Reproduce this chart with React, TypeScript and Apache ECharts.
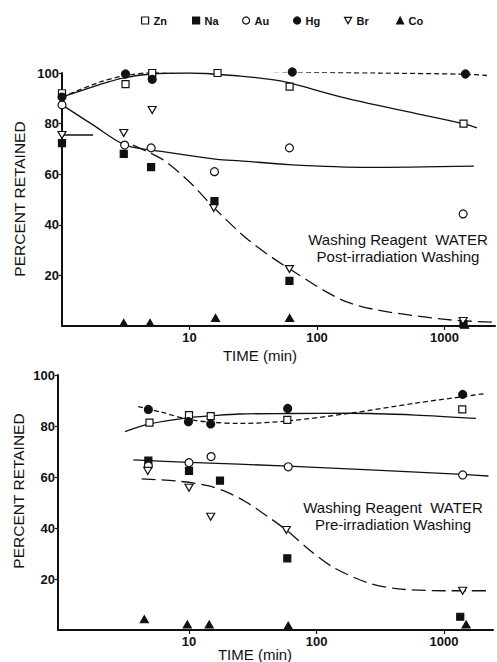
import React, { useEffect, useRef } from "react";
import * as echarts from "echarts";

// ---------- labels ----------
const elements = ["Zn", "Na", "Au", "Hg", "Br", "Co"];
const xTickValues = [10, 100, 1000];
const yTickValues = [20, 40, 60, 80, 100];
const xTitle = "TIME (min)";
const yTitle = "PERCENT RETAINED";
const postNote = ["Washing Reagent  WATER", "Post-irradiation Washing"];
const preNote = ["Washing Reagent  WATER", "Pre-irradiation Washing"];

// ---------- top panel: post-irradiation washing, [time (min), % retained] ----------
const postZn = [[1, 92], [3.15, 95.6], [5.1, 100], [16.6, 100], [61, 94.6], [1410, 80]];
const postNa = [[1, 72.3], [3.05, 68], [5.0, 62.8], [15.7, 49.4], [60.8, 17.8], [1410, 0.8]];
const postAu = [[1, 87.4], [3.1, 71.5], [5.0, 70.4], [15.7, 61], [60.8, 70.4], [1400, 44.3]];
const postHg = [[1, 90.5], [3.15, 99.6], [5.1, 97.5], [64, 100.4], [1460, 99.6]];
const postBr = [[1, 75.5], [3.05, 76.3], [5.1, 85.4], [15.5, 46.6], [60.8, 22.5], [1400, 2]];
const postCo = [[3.05, 1.2], [4.9, 1.2], [16, 3.2], [61, 3.2], [1440, 0.5]];

// fitted curves (top)
const postHgFit = [[1, 90.5], [2, 96.5], [3, 98.8], [5, 100.2], [10, 100.8], [25, 100.9], [64, 100.4], [300, 100], [1460, 99.5], [2180, 99]];
const postZnFit = [[1, 90.5], [2, 95.5], [3, 98], [5, 99.6], [10, 100], [25, 98.8], [43, 97.5], [60, 96.2], [153, 90.6], [512, 84.7], [1400, 80], [1800, 78.3]];
const postAuFit = [[1, 87.4], [1.76, 79.4], [3.15, 71.5], [6.2, 68.9], [16.5, 65.9], [25, 65.3], [60, 63.8], [250, 62.7], [1700, 63.2]];
const postBrStart = [[1, 75.5], [1.75, 75.5]];
const postNaBrFit = [[3.6, 71.5], [6.25, 65.6], [10.2, 56.5], [15.4, 47], [29, 34], [59, 23], [183, 9], [930, 2.8], [2500, 1.5]];

// ---------- bottom panel: pre-irradiation washing ----------
const preZn = [[4.9, 81.3], [10, 84.3], [14.8, 83.9], [59, 82.4], [1390, 86.5]];
const preNa = [[4.8, 66.4], [10, 62.4], [17.5, 58.6], [59, 28.1], [1340, 5.2]];
const preAu = [[4.8, 64.3], [10, 65.6], [14.9, 68], [60, 64], [1400, 60.8]];
const preHg = [[4.8, 86.5], [9.9, 81.7], [14.8, 80.8], [59.4, 86.9], [1400, 92.4]];
const preBr = [[4.75, 62.4], [10, 55.8], [14.8, 44.4], [58, 39.2], [1400, 15.4]];
const preCo = [[4.46, 4.2], [9.7, 2.2], [14.4, 2.2], [60, 1.7], [1490, 2.2]];

// fitted curves (bottom)
const preHgFit = [[4.0, 87.6], [6, 85.5], [10, 82.5], [15, 81.5], [25, 81], [60, 82], [183, 85], [600, 89], [1400, 91.5], [2150, 92.8]];
const preZnFit = [[3.15, 77.8], [4.9, 80.8], [10, 83.3], [15, 84], [25, 84.7], [60, 84.9], [183, 85], [600, 84.3], [1780, 83]];
const preAuFit = [[3.66, 66.7], [10, 65.7], [60, 64.3], [1400, 61], [2230, 60.4]];
const preNaBrFit = [[4.25, 59.3], [8.5, 58.3], [14, 56.6], [20, 54], [28, 50.2], [40, 45], [58, 39.2], [90, 31], [135, 24.6], [250, 18.6], [424, 16.2], [1000, 15.4], [2230, 15.4]];

const INK = "#111";
const DOWN_TRI = "path://M0,0L10,0L5,9Z";
const markers: Record<string, { symbol: string; size: number | number[]; fill: string }> = {
  Zn: { symbol: "rect", size: 7, fill: "#fff" },
  Na: { symbol: "rect", size: 7, fill: INK },
  Au: { symbol: "circle", size: 8, fill: "#fff" },
  Hg: { symbol: "circle", size: 8, fill: INK },
  Br: { symbol: DOWN_TRI, size: [8, 7], fill: "#fff" },
  Co: { symbol: "triangle", size: [8, 7], fill: INK },
};
const legendLeft = [141, 192, 242, 293, 344, 396];

export default function App() {
  const ref = useRef<HTMLDivElement>(null);
  useEffect(() => {
    if (!ref.current) return;
    const chart = echarts.init(ref.current, null, { renderer: "svg" });

    const scatter = (name: string, data: number[][], idx: number) => {
      const m = markers[name];
      return {
        type: "scatter",
        name,
        data,
        xAxisIndex: idx,
        yAxisIndex: idx,
        symbol: m.symbol,
        symbolSize: m.size,
        itemStyle: { color: m.fill, borderColor: INK, borderWidth: 1.2, opacity: 1 },
        z: 5,
        clip: false,
      };
    };
    const fit = (name: string, data: number[][], idx: number, type: any) => ({
      type: "line",
      name,
      data,
      xAxisIndex: idx,
      yAxisIndex: idx,
      showSymbol: false,
      symbol: "none",
      smooth: 0.3,
      lineStyle: { color: INK, width: 1.3, type },
      z: 2,
      silent: true,
    });

    const xAxis = (gridIndex: number, min: number, max: number) => ({
      type: "log",
      logBase: 10,
      gridIndex,
      min,
      max,
      axisLine: { show: true, lineStyle: { color: INK, width: 2 } },
      axisTick: { show: true, length: 4, customValues: xTickValues, lineStyle: { color: INK, width: 1.2 } },
      axisLabel: {
        customValues: xTickValues,
        margin: 5,
        color: INK,
        fontSize: 13,
        fontFamily: "Liberation Sans",
        fontWeight: "bold",
        formatter: (v: number) => String(Math.round(v)),
      },
      splitLine: { show: false },
      minorTick: { show: false },
    });
    const yAxis = (gridIndex: number) => ({
      type: "value",
      gridIndex,
      min: 0,
      max: 100,
      axisLine: { show: true, lineStyle: { color: INK, width: 2 } },
      axisTick: { show: true, length: 3, customValues: yTickValues, lineStyle: { color: INK, width: 1.2 } },
      axisLabel: {
        customValues: yTickValues,
        margin: 3,
        color: INK,
        fontSize: 13,
        fontFamily: "Liberation Sans",
        fontWeight: "bold",
      },
      splitLine: { show: false },
    });

    const legends = elements.map((name, i) => {
      const m = markers[name];
      return {
        left: legendLeft[i],
        top: 15,
        padding: 0,
        itemWidth: 7,
        itemHeight: 7,
        selectedMode: false,
        textStyle: { fontSize: 11, fontWeight: "bold", color: INK, fontFamily: "Liberation Sans Narrow, Liberation Sans" },
        data: [
          {
            name,
            icon: m.symbol,
            itemStyle: { color: m.fill, borderColor: INK, borderWidth: 1.2 },
          },
        ],
      };
    });

    const text = (x: number, y: number, t: string, size: number, rot = 0, weight = "normal") => ({
      type: "text",
      x,
      y,
      rotation: rot,
      style: {
        text: t,
        fill: INK,
        fontSize: size,
        fontFamily: "Liberation Sans",
        fontWeight: weight,
        textAlign: "center",
        textVerticalAlign: "middle",
      },
    });

    chart.setOption({
      animation: false,
      backgroundColor: "#fff",
      legend: legends,
      grid: [
        { left: 62, top: 73, width: 433, height: 253 },
        { left: 58, top: 375, width: 435, height: 255 },
      ],
      xAxis: [xAxis(0, 1, 2490), xAxis(1, 0.939, 2421)],
      yAxis: [yAxis(0), yAxis(1)],
      series: [
        fit("Hg fit top", postHgFit, 0, [5, 3]),
        fit("Zn fit top", postZnFit, 0, "solid"),
        fit("Au fit top", postAuFit, 0, "solid"),
        fit("Br start top", postBrStart, 0, "solid"),
        fit("Na/Br fit top", postNaBrFit, 0, [14, 6]),
        scatter("Zn", postZn, 0),
        scatter("Na", postNa, 0),
        scatter("Au", postAu, 0),
        scatter("Hg", postHg, 0),
        scatter("Br", postBr, 0),
        scatter("Co", postCo, 0),
        fit("Hg fit bottom", preHgFit, 1, [5, 3]),
        fit("Zn fit bottom", preZnFit, 1, "solid"),
        fit("Au fit bottom", preAuFit, 1, "solid"),
        fit("Na/Br fit bottom", preNaBrFit, 1, [14, 6]),
        scatter("Zn", preZn, 1),
        scatter("Na", preNa, 1),
        scatter("Au", preAu, 1),
        scatter("Hg", preHg, 1),
        scatter("Br", preBr, 1),
        scatter("Co", preCo, 1),
      ],
      graphic: [
        text(19, 199, yTitle, 15.5, Math.PI / 2),
        text(18, 491, yTitle, 15.5, Math.PI / 2),
        text(260, 355, xTitle, 15),
        text(255, 654, xTitle, 15),
        text(398, 239, postNote[0], 15),
        text(398, 256, postNote[1], 15),
        text(393, 507, preNote[0], 15),
        text(393, 524, preNote[1], 15),
      ],
    });
    return () => chart.dispose();
  }, []);
  return (
    <div
      ref={ref}
      style={{ position: "fixed", left: 0, top: 0, width: 497, height: 662, background: "#fff" }}
    />
  );
}
